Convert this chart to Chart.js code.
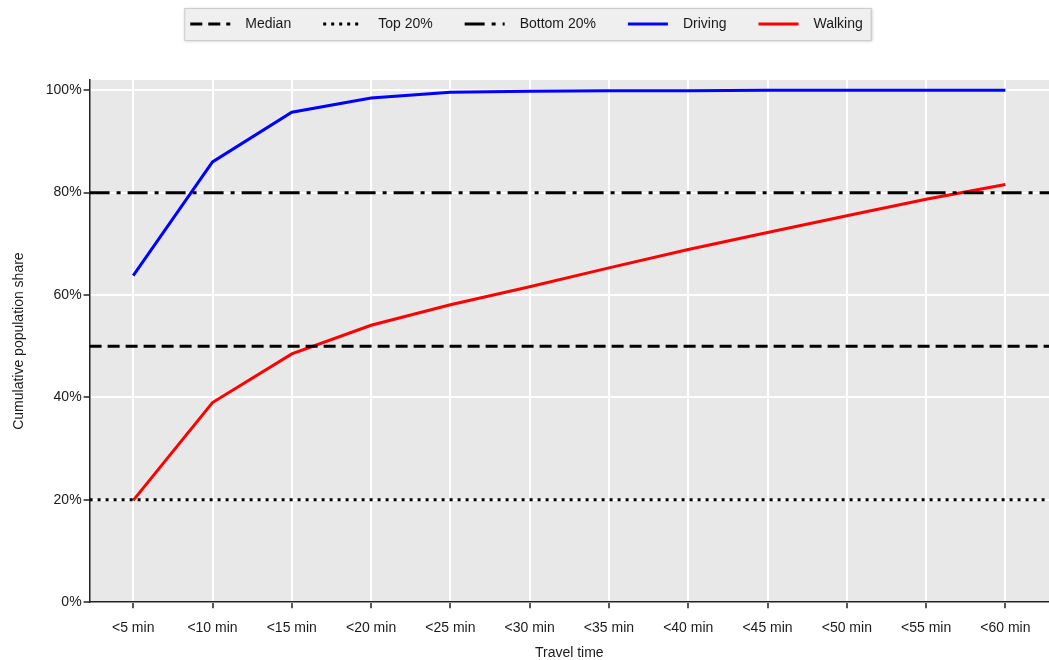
<!DOCTYPE html>
<html>
<head>
<meta charset="utf-8">
<script src="https://cdn.jsdelivr.net/npm/chart.js@4.4.1/dist/chart.umd.min.js"></script>
<style>
    html, body { margin: 0; padding: 0; background: #ffffff; }
    #wrap { width: 1049px; height: 660px; }
</style>
</head>
<body>
<div id="wrap"><canvas id="travelChart"></canvas></div>
<script>
// Data
const minutes = [5, 10, 15, 20, 25, 30, 35, 40, 45, 50, 55, 60];
const tickLabels = ['<5 min', '<10 min', '<15 min', '<20 min', '<25 min', '<30 min',
    '<35 min', '<40 min', '<45 min', '<50 min', '<55 min', '<60 min'];
const driving = [63.8, 86.0, 95.7, 98.5, 99.6, 99.8, 99.9, 99.9, 100, 100, 100, 100];
const walking = [19.9, 39.0, 48.5, 54.1, 58.1, 61.6, 65.3, 68.9, 72.2, 75.5, 78.7, 81.6];
const yTicks = [0, 20, 40, 60, 80, 100];
const medianShare = 50;
const top20Share = 20;
const bottom20Share = 80;

const xMin = 2.25;
const xMax = 62.75;

const FONT = "'Liberation Sans', Arial, sans-serif";
const TEXT = '#1a1a1a';
const AXIS = '#222222';

// legend tweaks
const LEGEND_PAD = 32;
const LEGEND_LINE = 40;
const LEGEND_SHIFT_Y = -15;

function flatLine(v) {
    return [{ x: xMin, y: v }, { x: xMax, y: v }];
}

function series(values) {
    return minutes.map((m, i) => ({ x: m, y: values[i] }));
}

// Grey plot background + boxed legend with dashed samples
const backgroundPlugin = {
    id: 'plotBackground',
    beforeInit(chart) {
        const legend = chart.legend;
        const origFit = legend.fit;
        legend.fit = function () {
            origFit.call(this);
            this.height = 80;
        };
    },
    afterLayout(chart) {
        chart.legend.top += LEGEND_SHIFT_Y;
    },
    beforeDraw(chart) {
        const { ctx, chartArea } = chart;
        ctx.save();
        ctx.fillStyle = '#e8e8e8';
        ctx.fillRect(chartArea.left, chartArea.top, chartArea.right - chartArea.left, chartArea.bottom - chartArea.top);

        const boxes = chart.legend.legendHitBoxes || [];
        if (boxes.length) {
            let left = Infinity, right = -Infinity;
            boxes.forEach((b) => {
                left = Math.min(left, b.left);
                right = Math.max(right, b.left + b.width);
            });
            left -= 6;
            right += 8;
            ctx.shadowColor = 'rgba(0,0,0,0.25)';
            ctx.shadowBlur = 3;
            ctx.shadowOffsetX = 1;
            ctx.shadowOffsetY = 1;
            ctx.fillStyle = '#efefef';
            ctx.fillRect(left, 8, right - left, 32);
            ctx.shadowColor = 'transparent';
            ctx.strokeStyle = '#cccccc';
            ctx.lineWidth = 1;
            ctx.strokeRect(left + 0.5, 8.5, right - left, 32);
        }
        ctx.restore();
    },
    afterDraw(chart) {
        const { ctx } = chart;
        const legend = chart.legend;
        const boxes = legend.legendHitBoxes || [];
        const y = legend.top + LEGEND_PAD + 7;
        ctx.save();
        boxes.forEach((b, i) => {
            const ds = chart.data.datasets[i];
            ctx.beginPath();
            ctx.setLineDash(ds.borderDash || []);
            ctx.lineWidth = ds.borderWidth;
            ctx.strokeStyle = ds.borderColor;
            ctx.moveTo(b.left, y);
            ctx.lineTo(b.left + LEGEND_LINE, y);
            ctx.stroke();
        });
        ctx.restore();
    }
};

document.addEventListener('DOMContentLoaded', function () {
    const ctx = document.getElementById('travelChart').getContext('2d');
    new Chart(ctx, {
        type: 'line',
        data: {
            datasets: [
                {
                    label: 'Median',
                    data: flatLine(medianShare),
                    borderColor: '#000000',
                    borderWidth: 3,
                    borderDash: [12, 6]
                },
                {
                    label: 'Top 20%',
                    data: flatLine(top20Share),
                    borderColor: '#000000',
                    borderWidth: 3,
                    borderDash: [3, 5]
                },
                {
                    label: 'Bottom 20%',
                    data: flatLine(bottom20Share),
                    borderColor: '#000000',
                    borderWidth: 3,
                    borderDash: [20, 7, 4, 7]
                },
                {
                    label: 'Driving',
                    data: series(driving),
                    borderColor: '#0000ff',
                    borderWidth: 3
                },
                {
                    label: 'Walking',
                    data: series(walking),
                    borderColor: '#ff0000',
                    borderWidth: 3
                }
            ]
        },
        options: {
            responsive: true,
            maintainAspectRatio: false,
            animation: false,
            events: [],
            layout: {
                padding: { left: 4, right: 0, top: 0, bottom: 0 }
            },
            elements: {
                point: { radius: 0 },
                line: { tension: 0, borderCapStyle: 'butt' }
            },
            plugins: {
                tooltip: { enabled: false },
                legend: {
                    display: true,
                    position: 'top',
                    labels: {
                        usePointStyle: true,
                        pointStyle: 'line',
                        pointStyleWidth: 48,
                        padding: LEGEND_PAD,
                        color: TEXT,
                        font: { family: FONT, size: 14 },
                        generateLabels(chart) {
                            const items = Chart.defaults.plugins.legend.labels.generateLabels(chart);
                            items.forEach((it) => {
                                it.strokeStyle = 'rgba(0,0,0,0)';
                                it.fillStyle = 'rgba(0,0,0,0)';
                            });
                            return items;
                        }
                    }
                }
            },
            scales: {
                x: {
                    type: 'linear',
                    min: xMin,
                    max: xMax,
                    afterBuildTicks(scale) {
                        scale.ticks = minutes.map((m) => ({ value: m }));
                    },
                    ticks: {
                        autoSkip: false,
                        maxRotation: 0,
                        padding: 12,
                        color: TEXT,
                        font: { family: FONT, size: 14 },
                        callback: function (value) {
                            const i = minutes.indexOf(value);
                            return i >= 0 ? tickLabels[i] : '';
                        }
                    },
                    grid: {
                        color: '#ffffff',
                        lineWidth: 2,
                        tickColor: AXIS,
                        tickLength: 6,
                        tickWidth: 1.5
                    },
                    border: { color: AXIS, width: 1.5 },
                    title: {
                        display: true,
                        text: 'Travel time',
                        color: TEXT,
                        font: { family: FONT, size: 14, lineHeight: 1 },
                        padding: { top: -3, bottom: 0 }
                    }
                },
                y: {
                    min: 0,
                    max: 102,
                    afterBuildTicks(scale) {
                        scale.ticks = yTicks.map((v) => ({ value: v }));
                    },
                    ticks: {
                        padding: 2,
                        color: TEXT,
                        font: { family: FONT, size: 14 },
                        callback: function (value) {
                            return value + '%';
                        }
                    },
                    grid: {
                        color: '#ffffff',
                        lineWidth: 2,
                        tickColor: AXIS,
                        tickLength: 6,
                        tickWidth: 1.5
                    },
                    border: { color: AXIS, width: 1.5 },
                    title: {
                        display: true,
                        text: 'Cumulative population share',
                        color: TEXT,
                        font: { family: FONT, size: 14 },
                        padding: { top: 7, bottom: 16 }
                    }
                }
            }
        },
        plugins: [backgroundPlugin]
    });
});
</script>
</body>
</html>
